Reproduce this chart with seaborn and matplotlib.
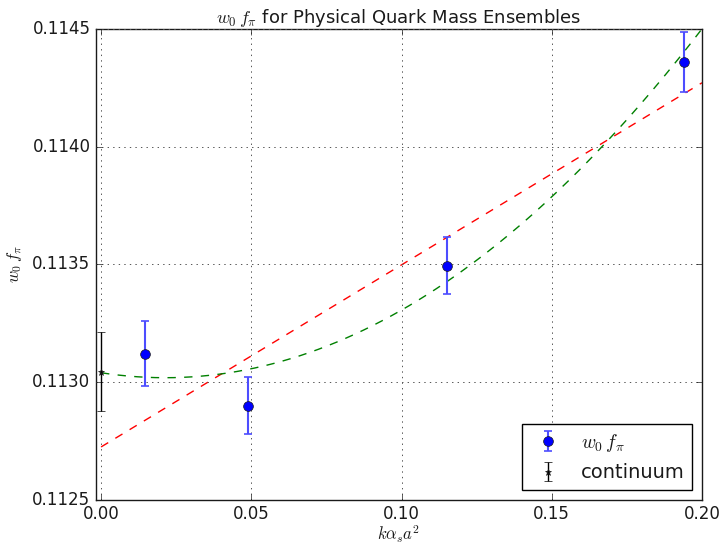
import numpy as np
import pandas as pd
import matplotlib
matplotlib.use("Agg")
import matplotlib.pyplot as plt
import seaborn as sns

# data
x_ens = [0.0146, 0.0488, 0.1150, 0.1940]
y_ens = [0.11312, 0.11290, 0.113494, 0.11436]
e_ens = [0.000138, 0.000120, 0.000121, 0.000127]
x_cont = [0.0]
y_cont = [0.113044]
e_cont = [0.000168]
lin_coef = [0.112725, 0.00773]            # a + b x
quad_coef = [0.11304, -0.00198, 0.0464]   # a + b x + c x^2
xticks = [0.00, 0.05, 0.10, 0.15, 0.20]
yticks = [0.1125, 0.1130, 0.1135, 0.1140, 0.1145]

sns.set_theme(style="ticks")
plt.style.use("classic")
plt.rcParams["font.family"] = ["DejaVu Sans"]
plt.rcParams["mathtext.fontset"] = "cm"

fig = plt.figure(figsize=(7.2, 5.44), dpi=100)
fig.patch.set_facecolor("white")
ax = fig.add_axes([0.1333, 0.081, 0.8417, 0.866])

xs = np.linspace(0, 0.2, 200)
df = pd.DataFrame({
    "x": xs,
    "lin": lin_coef[0] + lin_coef[1] * xs,
    "quad": quad_coef[0] + quad_coef[1] * xs + quad_coef[2] * xs ** 2,
})
sns.lineplot(data=df, x="x", y="lin", ax=ax, color="red", linestyle="--", lw=1)
sns.lineplot(data=df, x="x", y="quad", ax=ax, color="green", linestyle="--", lw=1)

ax.errorbar(x_ens, y_ens, yerr=e_ens, fmt="o", color="blue", ecolor=(0.3, 0.3, 1.0),
            markersize=7, capsize=3, elinewidth=1.5, capthick=1.2,
            label=r"$w_0\,f_\pi$", zorder=5)
ax.errorbar(x_cont, y_cont, yerr=e_cont, fmt="*", color="black", ecolor="black",
            markersize=5, capsize=3, elinewidth=1, label="continuum", zorder=5)

ax.set_xlim(-0.0017, 0.20)
ax.set_ylim(0.1125, 0.1145)
ax.set_xticks(xticks)
ax.set_yticks(yticks)
ax.set_xticklabels([f"{v:.2f}" for v in xticks], fontsize=12)
ax.set_yticklabels([f"{v:.4f}" for v in yticks], fontsize=12)
ax.grid(True, linestyle=":", color="#555555", lw=0.7)
ax.set_xlabel(r"$k\alpha_s a^2$", fontsize=12, labelpad=0)
ax.set_ylabel(r"$w_0\,f_\pi$", fontsize=12, labelpad=6)
ax.set_title(r"$w_0\,f_\pi$ for Physical Quark Mass Ensembles", fontsize=13, pad=4)
leg = ax.legend(loc="lower right", numpoints=1, fontsize=14, fancybox=False,
                borderaxespad=0.5, handlelength=1.8)
leg.get_frame().set_edgecolor("black")

fig.savefig("out.png", dpi=100, facecolor="white")
